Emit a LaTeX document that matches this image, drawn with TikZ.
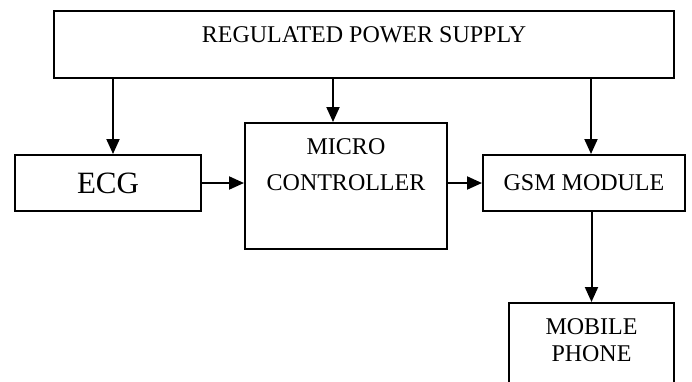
\documentclass[tikz,border=0pt]{standalone}
\usepackage{fontspec}
\setmainfont{Liberation Serif}
\usetikzlibrary{arrows.meta, positioning}

\begin{document}
\begin{tikzpicture}[x=0.5pt, y=-0.5pt,
  blk/.style={draw, line width=1pt, inner sep=0pt, anchor=north west},
  toptxt/.style={anchor=north, inner sep=0pt, align=center},
  feed/.style={line width=1pt, -{Triangle[width=6.5pt,length=7.5pt]}}]
  \useasboundingbox (0,0) rectangle (692,381);
  % blocks
  \node[blk, minimum width=310pt, minimum height=33.5pt] (psu) at (53,10) {};
  \node[blk, minimum width=93pt, minimum height=28pt, font=\fontsize{15.5}{17}\selectfont] (ecg) at (14,154) {ECG};
  \node[blk, minimum width=101pt, minimum height=63pt] (mcu) at (244,122) {};
  \node[blk, minimum width=101pt, minimum height=28pt, font=\fontsize{12}{14}\selectfont] (gsm) at (482,154) {GSM MODULE};
  \node[blk, minimum width=82.5pt, minimum height=40.5pt] (phone) at (508,302) {};
  % labels at the top of the blocks
  \node[toptxt, font=\fontsize{12}{14}\selectfont] (psu-t) at ([yshift=-8pt]psu.north) {REGULATED POWER SUPPLY};
  \node[toptxt, font=\fontsize{12}{18}\selectfont] (mcu-t) at ([yshift=-8pt]mcu.north) {MICRO\\CONTROLLER};
  \node[toptxt, font=\fontsize{12}{13.5}\selectfont] (phone-t) at ([yshift=-8pt]phone.north) {MOBILE\\PHONE};
  % connections
  \draw[feed] ([xshift=2.5pt]psu.south -| ecg.north) -- ([xshift=2.5pt]ecg.north);
  \draw[feed] ([xshift=-6.5pt]psu.south -| mcu.north) -- ([xshift=-6.5pt]mcu.north);
  \draw[feed] ([xshift=3.5pt]psu.south -| gsm.north) -- ([xshift=3.5pt]gsm.north);
  \draw[feed] (ecg.east) -- (ecg.east -| mcu.west);
  \draw[feed] (mcu.east |- gsm.west) -- (gsm.west);
  \draw[feed] (gsm.south -| phone.north) -- (phone.north);
\end{tikzpicture}
\end{document}
